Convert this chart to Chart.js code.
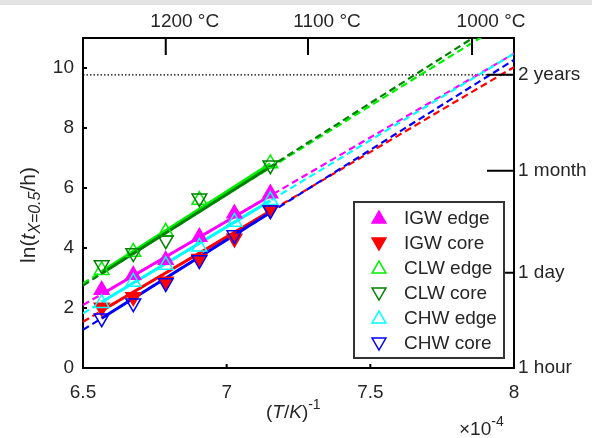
<!DOCTYPE html>
<html>
<head>
<meta charset="utf-8">
<script src="https://cdn.jsdelivr.net/npm/chart.js@4.4.0/dist/chart.umd.min.js"></script>
<style>
html, body { margin: 0; padding: 0; background: #fff; }
#wrap { position: relative; width: 592px; height: 438px; }
#band { position: absolute; left: 0; top: 0; width: 592px; height: 5px; background: #e3e3e3; }
</style>
</head>
<body>
<div id="wrap"><canvas id="c" width="592" height="438"></canvas><div id="band"></div></div>
<script>
// 1/T (x 1e-4) for 1250, 1225, 1200, 1175, 1150, 1125 °C
const invT = [6.565, 6.675, 6.788, 6.905, 7.027, 7.152];

// ln(t_X=0.5 / h)
const igwEdge = [2.6, 3.1, 3.6, 4.37, 5.15, 5.82];
const igwCore = [2.02, 2.37, 2.88, 3.64, 4.32, 5.28];
const clwEdge = [3.26, 3.87, 4.54, 5.6, null, 6.82];
const clwCore = [3.43, 3.83, 4.26, 5.66, null, 6.76];
const chwEdge = [2.16, 2.87, 3.43, 4.04, 4.87, 5.59];
const chwCore = [1.66, 2.16, 2.83, 3.6, 4.43, 5.26];

// fitted lines, values at x = 6.5, first point, last point, 8
const fitX = [6.5, 6.565, 7.152, 8];
const igwEdgeFit = [2.1, 2.46, 5.74, 10.48];
const igwCoreFit = [1.54, 1.91, 5.23, 10.03];
const clwEdgeFit = [2.82, 3.22, 6.81, 11.7];
const clwCoreFit = [2.75, 3.15, 6.71, 11.87];
const chwEdgeFit = [1.82, 2.2, 5.58, 10.48];
const chwCoreFit = [1.27, 1.66, 5.18, 10.27];

// axes
const xTicks = [6.5, 7, 7.5, 8];
const yTicks = [0, 2, 4, 6, 8, 10];
const topVals = [6.788, 7.283, 7.854];
const topLabels = ['1200 °C', '1100 °C', '1000 °C'];
const rightVals = [0, 3.178, 6.579, 9.771];
const rightLabels = ['1 hour', '1 day', '1 month', '2 years'];

const names = ['IGW edge', 'IGW core', 'CLW edge', 'CLW core', 'CHW edge', 'CHW core'];
const colors = ['#ff00ff', '#ff0000', '#00f000', '#008000', '#00ffff', '#0000ff'];
const pointSets = [igwEdge, igwCore, clwEdge, clwCore, chwEdge, chwCore];
const fitSets = [igwEdgeFit, igwCoreFit, clwEdgeFit, clwCoreFit, chwEdgeFit, chwCoreFit];
const upward = [true, false, true, false, true, false];
const filled = [true, true, false, false, false, false];

const FONT = '"Liberation Sans", Arial, sans-serif';
const TXT = '#262626';

const datasets = [];
names.forEach((name, i) => {
    const fit = fitSets[i];
    datasets.push({
        label: name + ' ext',
        data: [{x: fitX[0], y: fit[0]}, {x: fitX[3], y: fit[3]}],
        showLine: true, borderColor: colors[i], borderWidth: 2.2, borderDash: [7, 4],
        pointRadius: 0, order: 300 - i
    });
    datasets.push({
        label: name + ' fit',
        data: [{x: fitX[1], y: fit[1]}, {x: fitX[2], y: fit[2]}],
        showLine: true, borderColor: colors[i], borderWidth: 3,
        pointRadius: 0, order: 200 - i
    });
    datasets.push({
        label: name,
        data: invT.map((x, k) => ({x: x, y: pointSets[i][k]})).filter(p => p.y !== null),
        showLine: false, pointStyle: 'triangle', rotation: upward[i] ? 0 : 180,
        pointRadius: 8.5, pointBorderWidth: 1.5, pointBorderColor: colors[i],
        pointBackgroundColor: filled[i] ? colors[i] : 'rgba(0,0,0,0)',
        order: 100 - i
    });
});

function triangle(ctx, x, y, r, up) {
    ctx.beginPath();
    for (let k = 0; k < 3; k++) {
        const a = (up ? 0 : Math.PI) + k * 2 * Math.PI / 3;
        const px = x + Math.sin(a) * r, py = y - Math.cos(a) * r;
        if (k === 0) ctx.moveTo(px, py); else ctx.lineTo(px, py);
    }
    ctx.closePath();
}

function drawRuns(ctx, runs, x, y) {
    runs.forEach(p => {
        ctx.font = p[1] + ' ' + p[2] + 'px ' + FONT;
        ctx.fillText(p[0], x, y + p[3]);
        x += ctx.measureText(p[0]).width;
    });
}

const extras = {
    id: 'extras',
    beforeDatasetsDraw(chart) {
        const {ctx, chartArea: a, scales} = chart;
        const y = scales.y.getPixelForValue(rightVals[3]);
        ctx.save();
        ctx.strokeStyle = '#000';
        ctx.lineWidth = 1.3;
        ctx.setLineDash([1.5, 2]);
        ctx.beginPath();
        ctx.moveTo(a.left, y);
        ctx.lineTo(a.right, y);
        ctx.stroke();
        ctx.restore();
    },
    afterDraw(chart) {
        const {ctx, chartArea: a, scales} = chart;
        ctx.save();
        ctx.strokeStyle = '#000';
        ctx.lineWidth = 2;
        ctx.beginPath();
        xTicks.forEach(v => {
            const x = scales.x.getPixelForValue(v);
            ctx.moveTo(x, a.bottom); ctx.lineTo(x, a.bottom - 4);
        });
        yTicks.forEach(v => {
            const y = scales.y.getPixelForValue(v);
            ctx.moveTo(a.left, y); ctx.lineTo(a.left + 4, y);
        });
        topVals.forEach(v => {
            const x = scales.x2.getPixelForValue(v);
            ctx.moveTo(x, a.top); ctx.lineTo(x, a.top + 17);
        });
        rightVals.forEach(v => {
            const y = scales.y2.getPixelForValue(v);
            ctx.moveTo(a.right, y); ctx.lineTo(a.right - 27, y);
        });
        ctx.stroke();

        // legend
        const lx = 354, ly = 202, lw = 150, lh = 156;
        ctx.fillStyle = '#fff';
        ctx.fillRect(lx, ly, lw, lh);
        ctx.strokeStyle = '#333';
        ctx.lineWidth = 2;
        ctx.strokeRect(lx, ly, lw, lh);
        ctx.font = '19px ' + FONT;
        ctx.textBaseline = 'middle';
        ctx.textAlign = 'left';
        names.forEach((name, i) => {
            const y = 218 + i * 25;
            triangle(ctx, 379, y + (upward[i] ? 1 : -1), 8, upward[i]);
            if (filled[i]) { ctx.fillStyle = colors[i]; ctx.fill(); }
            ctx.strokeStyle = colors[i];
            ctx.lineWidth = 1.5;
            ctx.stroke();
            ctx.fillStyle = TXT;
            ctx.fillText(name, 404, y + 1);
        });

        // x title and exponent
        ctx.fillStyle = TXT;
        ctx.textBaseline = 'alphabetic';
        drawRuns(ctx, [['(', 'normal', 19, 0], ['T', 'italic', 19, 0], ['/', 'normal', 19, 0],
            ['K', 'italic', 19, 0], [')', 'normal', 19, 0], ['-1', 'normal', 14, -9]], 266, 418);
        drawRuns(ctx, [['\u00d710', 'normal', 19, 0], ['-4', 'normal', 14, -9]], 459, 435);

        // y title
        ctx.translate(35, 215);
        ctx.rotate(-Math.PI / 2);
        const yp = [['ln(', 'normal', 21, 0], ['t', 'italic', 21, 0], ['X=0.5', 'italic', 16, 5], ['/h)', 'normal', 21, 0]];
        let tw = 0;
        yp.forEach(p => { ctx.font = p[1] + ' ' + p[2] + 'px ' + FONT; tw += ctx.measureText(p[0]).width; });
        drawRuns(ctx, yp, -tw / 2, 0);
        ctx.restore();
    }
};

const axisFont = {family: FONT, size: 19};
const border = {display: true, color: '#000', width: 2};

new Chart(document.getElementById('c'), {
    type: 'scatter',
    data: {datasets: datasets},
    options: {
        responsive: false,
        animation: false,
        layout: {padding: 0},
        plugins: {legend: {display: false}, tooltip: {enabled: false}},
        scales: {
            x: {
                type: 'linear', position: 'bottom', min: 6.5, max: 8,
                afterBuildTicks: s => { s.ticks = xTicks.map(v => ({value: v})); },
                afterFit: s => { s.height = 70; },
                grid: {display: false, drawTicks: false}, border: border,
                ticks: {font: axisFont, color: TXT, padding: 13, autoSkip: false, maxRotation: 0,
                        callback: v => String(v)}
            },
            x2: {
                type: 'linear', position: 'top', min: 6.5, max: 8,
                afterBuildTicks: s => { s.ticks = topVals.map(v => ({value: v})); },
                afterFit: s => { s.height = 38; },
                grid: {display: false, drawTicks: false}, border: border,
                ticks: {font: axisFont, color: TXT, padding: 5, labelOffset: 19, autoSkip: false, maxRotation: 0,
                        callback: (v, i) => topLabels[i]}
            },
            y: {
                type: 'linear', position: 'left', min: 0, max: 11,
                afterBuildTicks: s => { s.ticks = yTicks.map(v => ({value: v})); },
                afterFit: s => { s.width = 83; },
                grid: {display: false, drawTicks: false}, border: border,
                ticks: {font: axisFont, color: TXT, padding: 9, autoSkip: false}
            },
            y2: {
                type: 'linear', position: 'right', min: 0, max: 11,
                afterBuildTicks: s => { s.ticks = rightVals.map(v => ({value: v})); },
                afterFit: s => { s.width = 78; },
                grid: {display: false, drawTicks: false}, border: border,
                ticks: {font: axisFont, color: TXT, padding: 4, autoSkip: false,
                        callback: (v, i) => rightLabels[i]}
            }
        }
    },
    plugins: [extras]
});
</script>
</body>
</html>
